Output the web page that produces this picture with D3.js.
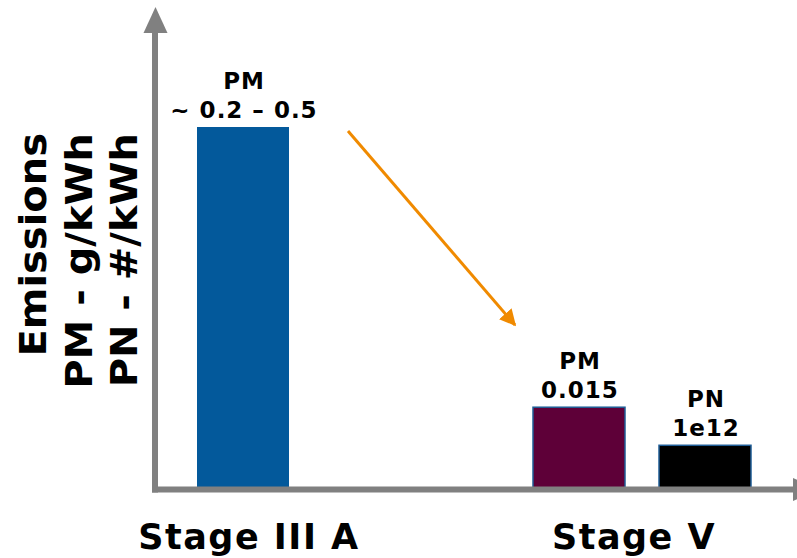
<!DOCTYPE html>
<html>
<head>
<meta charset="utf-8">
<script src="https://cdn.jsdelivr.net/npm/d3@7"></script>
<style>
  html, body { margin: 0; padding: 0; background: #ffffff; }
  svg { display: block; }
  text { font-family: Verdana, "DejaVu Sans", sans-serif; font-weight: bold; fill: #000; }
</style>
</head>
<body>
<svg id="chart" width="797" height="558"></svg>
<script>
// Emission limits: Stage III A vs Stage V (schematic bar heights)
const categories = ["Stage III A", "Stage V"];
const barStage = ["Stage III A", "Stage V", "Stage V"];
const barPollutant = ["PM", "PM", "PN"];
const barValueText = ["~ 0.2 – 0.5", "0.015", "1e12"];
const barLevel = [100, 22.7, 12.2];          // relative level on an unticked axis
const barColor = ["#03599b", "#5e0038", "#000000"];
const yAxisTitle = ["Emissions", "PM - g/kWh", "PN - #/kWh"];

const bars = barStage.map((s, i) => ({
  stage: s, pollutant: barPollutant[i], text: barValueText[i],
  level: barLevel[i], color: barColor[i]
}));

const svg = d3.select("#chart");
const axisColor = "#808080";
const baseY = 489.5, axisX = 155;

// vertical scale (schematic)
const y = d3.scaleLinear().domain([0, 100]).range([baseY, 127]);

// group centres along the horizontal axis, and label centres
const xGroup = d3.scalePoint().domain(categories).range([243, 642]);
const xLabel = d3.scalePoint().domain(categories).range([249, 634]);
const barW = 92, barGap = 34;

const groups = d3.group(bars, d => d.stage);
bars.forEach(b => {
  const members = groups.get(b.stage);
  const n = members.length;
  const span = n * barW + (n - 1) * barGap;
  const inner = d3.scaleLinear()
    .domain([0, n])
    .range([xGroup(b.stage) - span / 2, xGroup(b.stage) - span / 2 + n * (barW + barGap)]);
  b.x = inner(members.indexOf(b));
  b.w = barW;
});

// bars
svg.append("g").selectAll("rect").data(bars).join("rect")
  .attr("x", d => d.x)
  .attr("y", d => y(d.level))
  .attr("width", d => d.w)
  .attr("height", d => baseY - y(d.level))
  .attr("fill", d => d.color)
  .attr("stroke", (d, i) => i === 0 ? "none" : "#1f5d96")
  .attr("stroke-width", 1.5);

// axes with arrowheads
const axes = svg.append("g");
axes.append("line")
  .attr("x1", axisX).attr("x2", axisX)
  .attr("y1", baseY + 3).attr("y2", 30)
  .attr("stroke", axisColor).attr("stroke-width", 6);
axes.append("path")
  .attr("d", `M${axisX - 11.5},33 L${axisX + 0.5},7 L${axisX + 12.5},33 Z`)
  .attr("fill", axisColor);
axes.append("line")
  .attr("x1", axisX - 3).attr("x2", 795)
  .attr("y1", baseY).attr("y2", baseY)
  .attr("stroke", axisColor).attr("stroke-width", 6);
axes.append("path")
  .attr("d", `M793,${baseY - 11.5} L818,${baseY} L793,${baseY + 11.5} Z`)
  .attr("fill", axisColor);

// value labels above bars
const lab = svg.append("g").attr("text-anchor", "middle")
  .style("font-size", "23px").style("letter-spacing", "1px");
bars.forEach(b => {
  const cx = b.x + b.w / 2 + 1;
  const top = y(b.level);
  lab.append("text").attr("x", cx).attr("y", top - 38).text(b.pollutant);
  lab.append("text").attr("x", cx).attr("y", top - 9).text(b.text);
});

// category labels
svg.append("g").selectAll("text").data(categories).join("text")
  .attr("x", d => xLabel(d))
  .attr("y", 549)
  .attr("text-anchor", "middle")
  .style("font-size", "35px")
  .style("letter-spacing", "1.5px")
  .text(d => d);

// y-axis title: three rotated lines, ends aligned at the top
svg.append("g").selectAll("text").data(yAxisTitle).join("text")
  .attr("transform", (d, i) => `translate(${46 + i * 45.5},133) rotate(-90) scale(1.08,1)`)
  .attr("x", 0).attr("y", 0)
  .attr("text-anchor", "end")
  .style("font-size", "37px")
  .text(d => d);

// trend arrow between stages
const defs = svg.append("defs");
defs.append("marker")
  .attr("id", "orangeHead")
  .attr("viewBox", "0 0 10 10")
  .attr("refX", 9).attr("refY", 5)
  .attr("markerWidth", 5.5).attr("markerHeight", 5.5)
  .attr("orient", "auto")
  .append("path").attr("d", "M0,0 L10,5 L0,10 Z").attr("fill", "#f08a00");
svg.append("line")
  .attr("x1", 348).attr("y1", 131)
  .attr("x2", 515).attr("y2", 325)
  .attr("stroke", "#f08a00").attr("stroke-width", 3)
  .attr("marker-end", "url(#orangeHead)");
</script>
</body>
</html>
